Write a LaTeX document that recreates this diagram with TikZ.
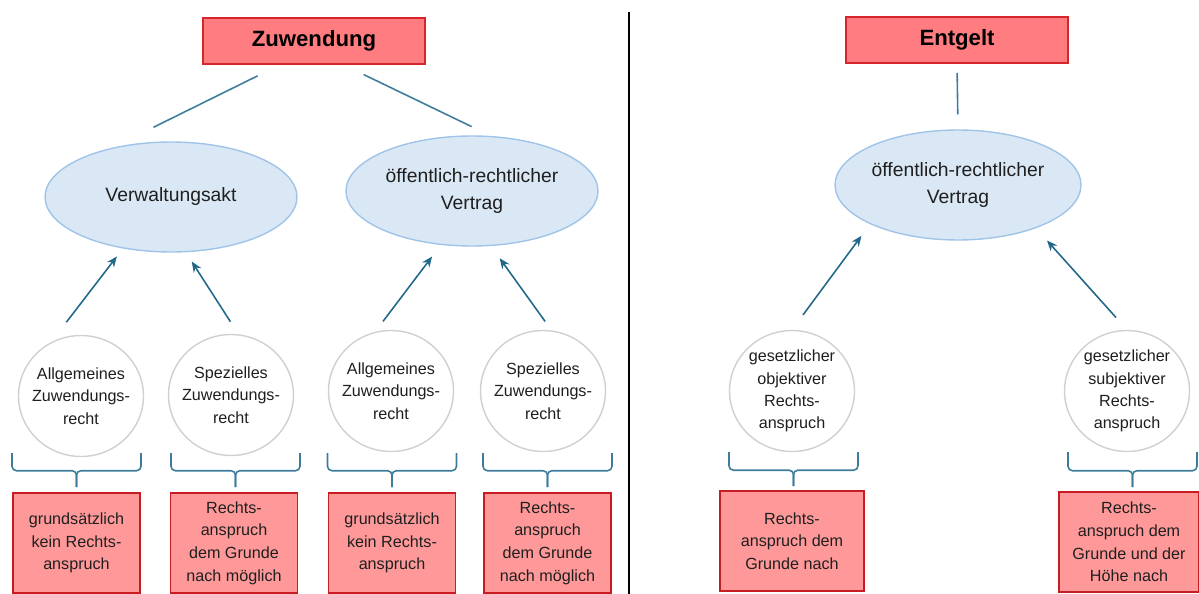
\documentclass[tikz,border=0pt]{standalone}
\usepackage{fontspec}
\setmainfont{Liberation Sans}
\usepackage{tikz}
\usetikzlibrary{calc,arrows.meta,shapes.geometric}

\definecolor{titelrot}{RGB}{255,124,128}
\definecolor{titelrand}{RGB}{214,38,44}
\definecolor{folgerot}{RGB}{255,153,153}
\definecolor{folgerand}{RGB}{200,28,34}
\definecolor{formblau}{RGB}{218,232,245}
\definecolor{formrand}{RGB}{160,196,232}
\definecolor{kreisgrau}{RGB}{208,208,208}
\definecolor{linienblau}{RGB}{62,124,156}
\definecolor{pfeilblau}{RGB}{34,104,138}

\begin{document}
\begin{tikzpicture}[x=0.02cm,y=-0.02cm,
	titel/.style={rectangle,draw=titelrand,line width=0.9pt,fill=titelrot,minimum width=4.44cm,minimum height=0.92cm,font=\fontsize{12.6}{15}\selectfont\bfseries},
	form/.style={ellipse,draw=formrand,line width=0.8pt,fill=formblau,minimum width=5.04cm,minimum height=2.2cm,align=center,inner sep=0pt,text=black!88,font=\fontsize{11}{15.3}\selectfont},
	grundlage/.style={ellipse,draw=kreisgrau,line width=0.8pt,fill=white,minimum width=2.5cm,minimum height=2.42cm,align=center,inner sep=-8pt,text=black!88,font=\fontsize{9.2}{12.7}\selectfont},
	folge/.style={rectangle,draw=folgerand,line width=0.9pt,fill=folgerot,minimum width=2.54cm,minimum height=2cm,align=center,inner sep=0pt,text=black!88,font=\fontsize{9.2}{12.9}\selectfont},
	link/.style={draw=linienblau,line width=0.9pt},
	paths/.style={->,draw=pfeilblau,line width=0.9pt,>={Stealth[length=6pt,width=5pt]}},
	klammer/.style={draw=linienblau,line width=0.9pt,rounded corners=2.5pt}
	]
\useasboundingbox (0,0) rectangle (1199,594);

% Zuwendung
\node [titel] at (314,41) (zuw) {Zuwendung};
\node [form] at (171,197) (va) {Verwaltungsakt};
\node [form] at (472,191) (oerv1) {öffentlich-rechtlicher\\Vertrag};

\node [grundlage] at (81,396) (azr1) {Allgemeines\\Zuwendungs-\\recht};
\node [grundlage] at (231,395) (szr1) {Spezielles\\Zuwendungs-\\recht};
\node [grundlage] at (391,391) (azr2) {Allgemeines\\Zuwendungs-\\recht};
\node [grundlage] at (543,391) (szr2) {Spezielles\\Zuwendungs-\\recht};

\node [folge] at (76.5,543) (res1) {grundsätzlich\\kein Rechts-\\anspruch};
\node [folge] at (234,543) (res2) {Rechts-\\anspruch\\dem Grunde\\nach möglich};
\node [folge] at (392,543) (res3) {grundsätzlich\\kein Rechts-\\anspruch};
\node [folge] at (547.5,543) (res4) {Rechts-\\anspruch\\dem Grunde\\nach möglich};

% Entgelt
\node [titel] at (957,40) (entg) {Entgelt};
\node [form,minimum width=4.92cm] at (958,185) (oerv2) {öffentlich-rechtlicher\\Vertrag};

\node [grundlage] at (792,391) (ora) {gesetzlicher\\objektiver\\Rechts-\\anspruch};
\node [grundlage] at (1127,391) (sra) {gesetzlicher\\subjektiver\\Rechts-\\anspruch};

\node [folge,minimum width=2.88cm] at (792,541) (res5) {Rechts-\\anspruch dem\\Grunde nach};
\node [folge,minimum width=2.8cm] at (1129,542) (res6) {Rechts-\\anspruch dem\\Grunde und der\\Höhe nach};

% divider
\draw [line width=1.6pt] (629,12) -- (629,594);

% lines
\draw[link, shorten <=0.5cm, shorten >=0.92cm] (zuw.215.9) -- (va.140.8);
\draw[link, shorten <=0.45cm, shorten >=0.43cm] (zuw.321.2) -- (oerv1.71.3);
\draw[link, shorten <=0.18cm, shorten >=0.3cm] (entg.south) -- (oerv2.north);

% paths
\draw[paths, shorten <=0.5cm, shorten >=0.2cm] (azr1.119.7) -- (va.227.5);
\draw[paths, shorten <=0.3cm, shorten >=0.22cm] (szr1.83.6) -- (va.285.6);
\draw[paths, shorten <=0.26cm, shorten >=0.29cm] (azr2.105.3) -- (oerv1.240.6);
\draw[paths, shorten <=0.22cm, shorten >=0.3cm] (szr2.82.3) -- (oerv1.289.6);
\draw[paths, shorten <=0.37cm, shorten >=0.29cm] (ora.90) -- (oerv2.204.5);
\draw[paths, shorten <=0.33cm, shorten >=0.33cm] (sra.90) -- (oerv2.331.4);

% braces above the results
\draw[klammer] ($(res1.north)+(-64.5,-39)$) |- ($(res1.north)+(0,-21.5)$) -- ($(res1.north)+(0,-5)$);
\draw[klammer] ($(res1.north)+(64.5,-39)$) |- ($(res1.north)+(0,-21.5)$) -- ($(res1.north)+(0,-5)$);
\draw[klammer] ($(res2.north)+(-63,-39)$) |- ($(res2.north)+(1.5,-21.5)$) -- ($(res2.north)+(1.5,-5)$);
\draw[klammer] ($(res2.north)+(66,-39)$) |- ($(res2.north)+(1.5,-21.5)$) -- ($(res2.north)+(1.5,-5)$);
\draw[klammer] ($(res3.north)+(-64.5,-39)$) |- ($(res3.north)+(0,-21.5)$) -- ($(res3.north)+(0,-5)$);
\draw[klammer] ($(res3.north)+(64.5,-39)$) |- ($(res3.north)+(0,-21.5)$) -- ($(res3.north)+(0,-5)$);
\draw[klammer] ($(res4.north)+(-64.5,-39)$) |- ($(res4.north)+(0,-21.5)$) -- ($(res4.north)+(0,-5)$);
\draw[klammer] ($(res4.north)+(64.5,-39)$) |- ($(res4.north)+(0,-21.5)$) -- ($(res4.north)+(0,-5)$);
\draw[klammer] ($(res5.north)+(-63,-38)$) |- ($(res5.north)+(1.5,-20)$) -- ($(res5.north)+(1.5,-4)$);
\draw[klammer] ($(res5.north)+(66,-38)$) |- ($(res5.north)+(1.5,-20)$) -- ($(res5.north)+(1.5,-4)$);
\draw[klammer] ($(res6.north)+(-61,-39)$) |- ($(res6.north)+(3.5,-20.5)$) -- ($(res6.north)+(3.5,-4)$);
\draw[klammer] ($(res6.north)+(68,-39)$) |- ($(res6.north)+(3.5,-20.5)$) -- ($(res6.north)+(3.5,-4)$);

\end{tikzpicture}
\end{document}
